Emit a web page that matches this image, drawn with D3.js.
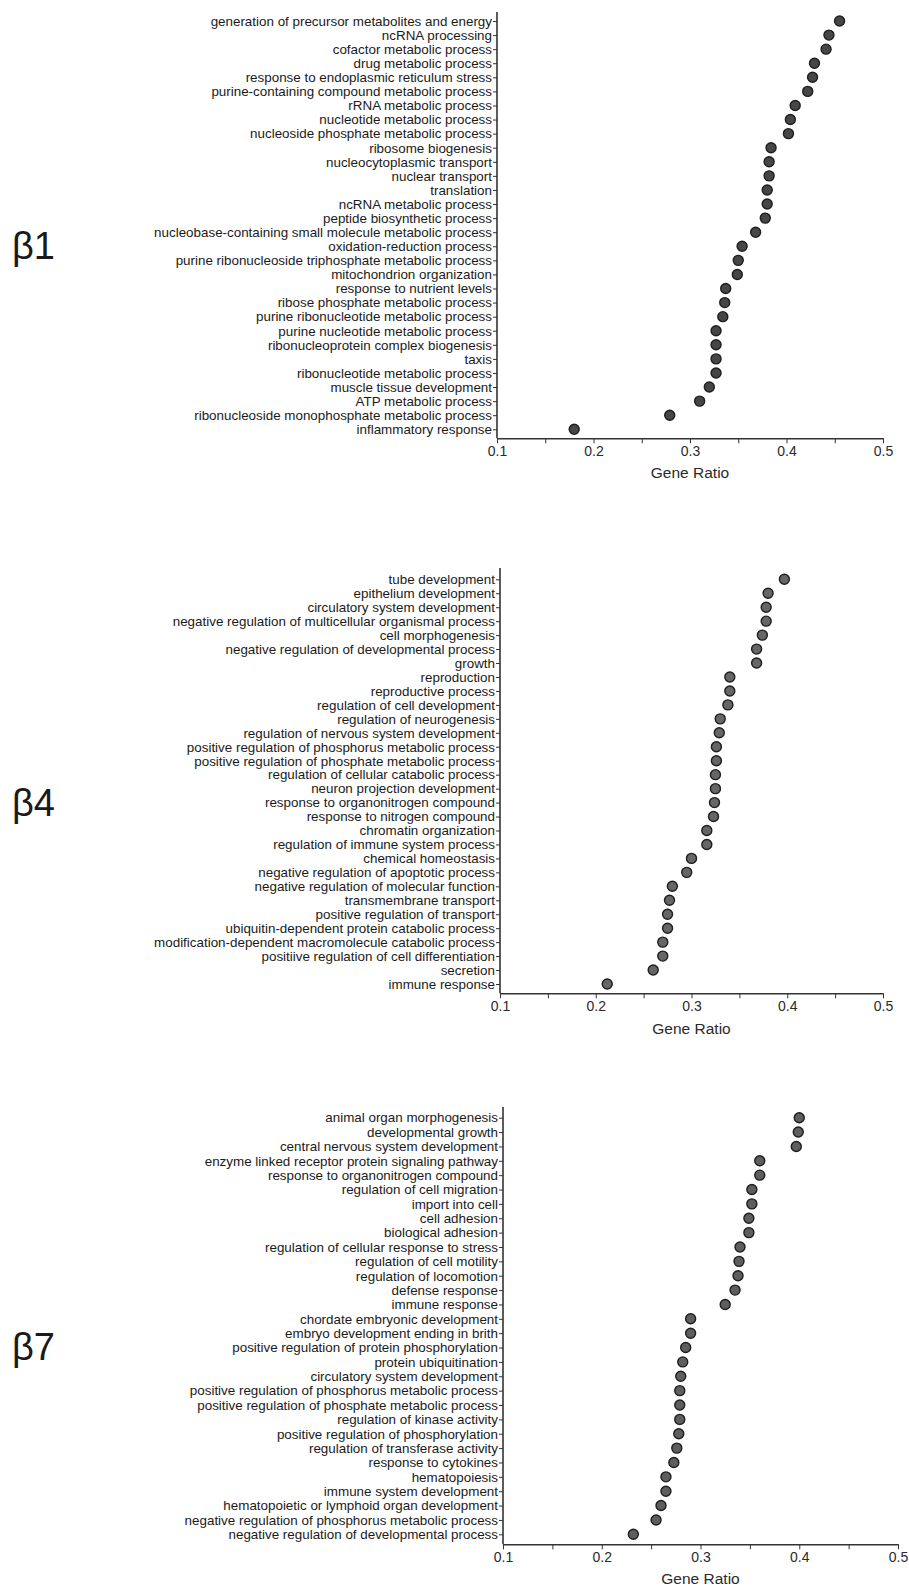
<!DOCTYPE html>
<html>
<head>
<meta charset="utf-8">
<script src="https://cdn.jsdelivr.net/npm/d3@7"></script>
<style>
  body { margin: 0; background: #fff; }
  svg { display: block; font-family: "Liberation Sans", Arial, sans-serif; }
</style>
</head>
<body>
<svg id="chart" width="909" height="1587"></svg>
<script>
const labels1 = [
  "generation of precursor metabolites and energy", "ncRNA processing", "cofactor metabolic process",
  "drug metabolic process", "response to endoplasmic reticulum stress", "purine-containing compound metabolic process",
  "rRNA metabolic process", "nucleotide metabolic process", "nucleoside phosphate metabolic process",
  "ribosome biogenesis", "nucleocytoplasmic transport", "nuclear transport", "translation",
  "ncRNA metabolic process", "peptide biosynthetic process", "nucleobase-containing small molecule metabolic process",
  "oxidation-reduction process", "purine ribonucleoside triphosphate metabolic process", "mitochondrion organization",
  "response to nutrient levels", "ribose phosphate metabolic process", "purine ribonucleotide metabolic process",
  "purine nucleotide metabolic process", "ribonucleoprotein complex biogenesis", "taxis",
  "ribonucleotide metabolic process", "muscle tissue development", "ATP metabolic process",
  "ribonucleoside monophosphate metabolic process", "inflammatory response"
];
const ratio1 = [0.455, 0.444, 0.441, 0.429, 0.427, 0.422, 0.409, 0.404, 0.402, 0.384, 0.382, 0.382, 0.380, 0.380, 0.378,
  0.368, 0.354, 0.350, 0.349, 0.337, 0.336, 0.334, 0.327, 0.327, 0.327, 0.327, 0.320, 0.310, 0.279, 0.180];

const labels2 = [
  "tube development", "epithelium development", "circulatory system development",
  "negative regulation of multicellular organismal process", "cell morphogenesis",
  "negative regulation of developmental process", "growth", "reproduction", "reproductive process",
  "regulation of cell development", "regulation of neurogenesis", "regulation of nervous system development",
  "positive regulation of phosphorus metabolic process", "positive regulation of phosphate metabolic process",
  "regulation of cellular catabolic process", "neuron projection development", "response to organonitrogen compound",
  "response to nitrogen compound", "chromatin organization", "regulation of immune system process",
  "chemical homeostasis", "negative regulation of apoptotic process", "negative regulation of molecular function",
  "transmembrane transport", "positive regulation of transport", "ubiquitin-dependent protein catabolic process",
  "modification-dependent macromolecule catabolic process", "positiive regulation of cell differentiation",
  "secretion", "immune response"
];
const ratio2 = [0.397, 0.380, 0.378, 0.378, 0.374, 0.368, 0.368, 0.340, 0.340, 0.338, 0.330, 0.329, 0.326, 0.326, 0.325,
  0.325, 0.324, 0.323, 0.316, 0.316, 0.300, 0.295, 0.280, 0.277, 0.275, 0.275, 0.270, 0.270, 0.260, 0.212];

const labels3 = [
  "animal organ morphogenesis", "developmental growth", "central nervous system development",
  "enzyme linked receptor protein signaling pathway", "response to organonitrogen compound",
  "regulation of cell migration", "import into cell", "cell adhesion", "biological adhesion",
  "regulation of cellular response to stress", "regulation of cell motility", "regulation of locomotion",
  "defense response", "immune response", "chordate embryonic development", "embryo development ending in brith",
  "positive regulation of protein phosphorylation", "protein ubiquitination", "circulatory system development",
  "positive regulation of phosphorus metabolic process", "positive regulation of phosphate metabolic process",
  "regulation of kinase activity", "positive regulation of phosphorylation", "regulation of transferase activity",
  "response to cytokines", "hematopoiesis", "immune system development",
  "hematopoietic or lymphoid organ development", "negative regulation of phosphorus metabolic process",
  "negative regulation of developmental process"
];
const ratio3 = [0.400, 0.399, 0.397, 0.360, 0.360, 0.352, 0.352, 0.349, 0.349, 0.340, 0.339, 0.338, 0.335, 0.325,
  0.290, 0.290, 0.285, 0.282, 0.280, 0.279, 0.279, 0.279, 0.278, 0.276, 0.273, 0.265, 0.265, 0.260, 0.255, 0.232];

const panelNames = ["β1", "β4", "β7"];
const xTicks = [0.1, 0.15, 0.2, 0.25, 0.3, 0.35, 0.4, 0.45, 0.5];
const xDomain = [0.1, 0.5];

const panels = [
  { name: panelNames[0], labels: labels1, values: ratio1, x0: 497, x1: 883, top: 12, y0: 21, y1: 429.3, axisY: 438.3, titleDy: 40, fill: "#464646" },
  { name: panelNames[1], labels: labels2, values: ratio2, x0: 500, x1: 883, top: 568, y0: 579.3, y1: 984, axisY: 993.3, titleDy: 41, fill: "#666666" },
  { name: panelNames[2], labels: labels3, values: ratio3, x0: 503, x1: 898, top: 1107, y0: 1117.7, y1: 1534.3, axisY: 1544.3, titleDy: 40, fill: "#5e5e5e" }
];

const svg = d3.select("#chart");

panels.forEach(p => {
  const g = svg.append("g");

  const x = d3.scaleLinear().domain(xDomain).range([p.x0, p.x1]);
  const y = d3.scalePoint().domain(p.labels).range([p.y0, p.y1]);

  // y axis
  const yAxis = g.append("g")
      .attr("transform", "translate(" + p.x0 + ",0)")
      .call(d3.axisLeft(y).tickSize(4).tickPadding(1).tickSizeOuter(0));
  yAxis.select(".domain").remove();
  yAxis.selectAll(".tick line").attr("stroke", "#333").attr("stroke-width", 1);
  yAxis.selectAll(".tick text")
      .attr("fill", "#1a1a1a")
      .style("font-size", "13.4px");
  g.append("line")
      .attr("x1", p.x0).attr("x2", p.x0)
      .attr("y1", p.top).attr("y2", p.axisY)
      .attr("stroke", "#333").attr("stroke-width", 1.6);

  // x axis
  const xAxis = g.append("g")
      .attr("transform", "translate(0," + p.axisY + ")")
      .call(d3.axisBottom(x).tickValues(xTicks).tickSize(5).tickSizeOuter(0).tickPadding(3)
        .tickFormat(d => Math.abs(d * 10 - Math.round(d * 10)) < 1e-6 ? d3.format(".1f")(d) : ""));
  xAxis.select(".domain").attr("stroke", "#333").attr("stroke-width", 1.6);
  xAxis.selectAll(".tick line").attr("stroke", "#333").attr("stroke-width", 1);
  xAxis.selectAll(".tick text").attr("fill", "#2a2a2a").style("font-size", "14px");

  g.append("text")
      .attr("x", (p.x0 + p.x1) / 2)
      .attr("y", p.axisY + p.titleDy)
      .attr("text-anchor", "middle")
      .attr("fill", "#2a2a2a")
      .style("font-size", "15.5px")
      .text("Gene Ratio");

  // dots
  g.append("g").selectAll("circle")
    .data(p.labels.map((l, i) => ({ label: l, value: p.values[i] })))
    .enter().append("circle")
      .attr("cx", d => x(d.value))
      .attr("cy", d => y(d.label))
      .attr("r", 5)
      .attr("fill", p.fill)
      .attr("stroke", "#1e1e1e")
      .attr("stroke-width", 1.4);

  // panel name
  g.append("text")
      .attr("x", 12)
      .attr("y", (p.y0 + p.y1) / 2 + 34)
      .attr("fill", "#1a1a1a")
      .style("font-size", "38px")
      .text(p.name);
});
</script>
</body>
</html>
